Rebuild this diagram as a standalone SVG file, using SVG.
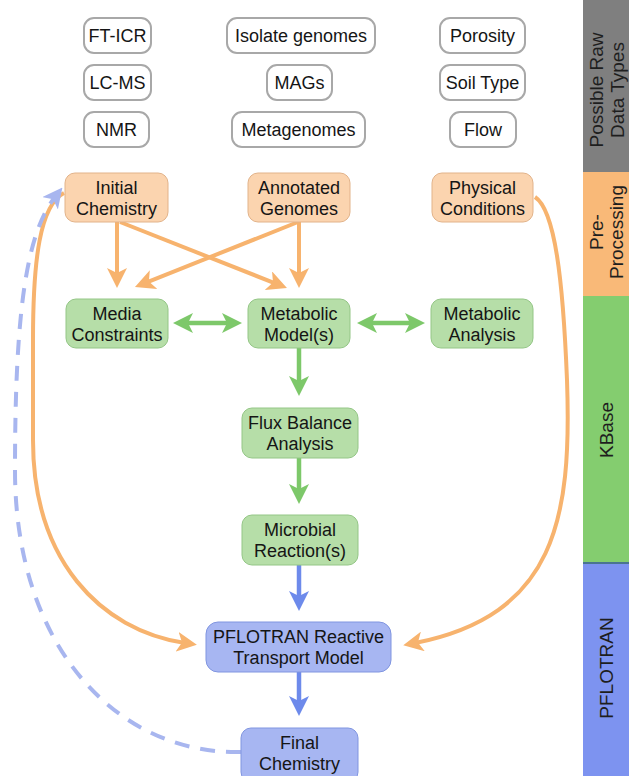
<svg xmlns="http://www.w3.org/2000/svg" width="629" height="776" viewBox="0 0 629 776">
<style>
text{font-family:"Liberation Sans",Arial,sans-serif;font-size:18px;fill:#151515;text-anchor:middle}
.raw{fill:#fff;stroke:#a8a8a8;stroke-width:2}
.pre{fill:#fbd4af;stroke:#e2b38a;stroke-width:1}
.kb{fill:#b6dea8;stroke:#94c686;stroke-width:1}
.pf{fill:#a7b6f2;stroke:#8095e0;stroke-width:1}
.side{font-size:19px;fill:#1e1e1e}
.lo{fill:none;stroke:#f7b36e;stroke-width:4}
.lg{fill:none;stroke:#7dc86a;stroke-width:4.5}
.lb{fill:none;stroke:#6d8aeb;stroke-width:4.5}
.ld{fill:none;stroke:#a8b6ef;stroke-width:4;stroke-dasharray:15 11}
</style>
<defs>
<marker id="ao" viewBox="0 0 20 20" refX="8" refY="10" markerWidth="20" markerHeight="20" markerUnits="userSpaceOnUse" orient="auto-start-reverse"><path d="M0,0 L20,10 L0,20 L5,10 z" fill="#f7b36e"/></marker>
<marker id="ag" viewBox="0 0 20 20" refX="8" refY="10" markerWidth="20" markerHeight="20" markerUnits="userSpaceOnUse" orient="auto-start-reverse"><path d="M0,0 L20,10 L0,20 L5,10 z" fill="#7dc86a"/></marker>
<marker id="ab" viewBox="0 0 20 20" refX="8" refY="10" markerWidth="20" markerHeight="20" markerUnits="userSpaceOnUse" orient="auto-start-reverse"><path d="M0,0 L20,10 L0,20 L5,10 z" fill="#6d8aeb"/></marker>
<marker id="ad" viewBox="0 0 20 20" refX="8" refY="10" markerWidth="20" markerHeight="20" markerUnits="userSpaceOnUse" orient="auto"><path d="M0,0 L20,10 L0,20 L5,10 z" fill="#a8b6ef"/></marker>
</defs>

<g id="sidebar">
<rect x="583" y="0" width="46" height="172" fill="#7f7f7f"/>
<rect x="583" y="172" width="46" height="124" fill="#f9b978"/>
<rect x="583" y="296" width="46" height="267" fill="#84cd6f"/>
<rect x="583" y="563" width="46" height="213" fill="#7d93f0"/>
<line x1="583" y1="563" x2="629" y2="563" stroke="#4a7590" stroke-width="2"/>
<text class="side" transform="translate(603,90) rotate(-90)">Possible Raw</text>
<text class="side" transform="translate(624,90) rotate(-90)">Data Types</text>
<text class="side" transform="translate(603,232) rotate(-90)">Pre-</text>
<text class="side" transform="translate(623,232) rotate(-90)">Processing</text>
<text class="side" transform="translate(613,430) rotate(-90)">KBase</text>
<text class="side" transform="translate(613,668) rotate(-90)">PFLOTRAN</text>
</g>

<g id="connectors">
<path class="lo" d="M117,222 L117,276" marker-end="url(#ao)"/>
<path class="lo" d="M120,222 L275.8,283.6" marker-end="url(#ao)"/>
<path class="lo" d="M299,222 L299,276" marker-end="url(#ao)"/>
<path class="lo" d="M298,222 L146.1,282.6" marker-end="url(#ao)"/>
<path class="lo" d="M64,193 C40,205 33,260 33,340 L33,440 C33,560 100,630 185,643" marker-end="url(#ao)"/>
<path class="lo" d="M535,197 C555,210 563,280 567,380 C572,520 555,615 415,643" marker-end="url(#ao)"/>
<path class="lg" d="M185,323 L230,323" marker-start="url(#ag)" marker-end="url(#ag)"/>
<path class="lg" d="M369,323 L413,323" marker-start="url(#ag)" marker-end="url(#ag)"/>
<path class="lg" d="M299,348 L299,384" marker-end="url(#ag)"/>
<path class="lg" d="M299,458 L299,492" marker-end="url(#ag)"/>
<path class="lb" d="M299,565 L299,599" marker-end="url(#ab)"/>
<path class="lb" d="M299,672 L299,704" marker-end="url(#ab)"/>
<path class="ld" d="M241,752 C120,755 15,650 15,470 C15,320 25,235 55,197" marker-end="url(#ad)"/>
</g>

<g id="ft-icr"><rect class="raw" x="84" y="18" width="67" height="35" rx="10"/><text x="117.5" y="42">FT-ICR</text></g>
<g id="lc-ms"><rect class="raw" x="84" y="65" width="67" height="35" rx="10"/><text x="117.5" y="89">LC-MS</text></g>
<g id="nmr"><rect class="raw" x="84" y="112" width="65" height="35" rx="10"/><text x="116.5" y="136">NMR</text></g>
<g id="isolate-genomes"><rect class="raw" x="227" y="18" width="148" height="35" rx="10"/><text x="301" y="42">Isolate genomes</text></g>
<g id="mags"><rect class="raw" x="267" y="65" width="65" height="35" rx="10"/><text x="299.5" y="89">MAGs</text></g>
<g id="metagenomes"><rect class="raw" x="232" y="112" width="133" height="35" rx="10"/><text x="298.5" y="136">Metagenomes</text></g>
<g id="porosity"><rect class="raw" x="440" y="18" width="85" height="35" rx="10"/><text x="482.5" y="42">Porosity</text></g>
<g id="soil-type"><rect class="raw" x="440" y="65" width="85" height="35" rx="10"/><text x="482.5" y="89">Soil Type</text></g>
<g id="flow"><rect class="raw" x="450" y="112" width="66" height="35" rx="10"/><text x="483" y="136">Flow</text></g>

<g id="initial-chemistry"><rect class="pre" x="65" y="173" width="103" height="49" rx="10"/><text x="116.5" y="193.5">Initial</text><text x="116.5" y="214.5">Chemistry</text></g>
<g id="annotated-genomes"><rect class="pre" x="248" y="173" width="102" height="49" rx="10"/><text x="299" y="193.5">Annotated</text><text x="299" y="214.5">Genomes</text></g>
<g id="physical-conditions"><rect class="pre" x="432" y="173" width="101" height="49" rx="10"/><text x="482.5" y="193.5">Physical</text><text x="482.5" y="214.5">Conditions</text></g>

<g id="media-constraints"><rect class="kb" x="66" y="299" width="102" height="49" rx="10"/><text x="117" y="319.5">Media</text><text x="117" y="340.5">Constraints</text></g>
<g id="metabolic-models"><rect class="kb" x="248" y="299" width="102" height="49" rx="10"/><text x="299" y="319.5">Metabolic</text><text x="299" y="340.5">Model(s)</text></g>
<g id="metabolic-analysis"><rect class="kb" x="431" y="299" width="102" height="49" rx="10"/><text x="482" y="319.5">Metabolic</text><text x="482" y="340.5">Analysis</text></g>
<g id="flux-balance-analysis"><rect class="kb" x="242" y="408" width="116" height="50" rx="10"/><text x="300" y="429">Flux Balance</text><text x="300" y="450">Analysis</text></g>
<g id="microbial-reactions"><rect class="kb" x="242" y="515" width="116" height="50" rx="10"/><text x="300" y="536">Microbial</text><text x="300" y="557">Reaction(s)</text></g>

<g id="pflotran-model"><rect class="pf" x="206" y="622" width="185" height="50" rx="12"/><text x="298.5" y="643">PFLOTRAN Reactive</text><text x="298.5" y="664">Transport Model</text></g>
<g id="final-chemistry"><rect class="pf" x="241" y="728" width="117" height="54" rx="10"/><text x="299.5" y="749">Final</text><text x="299.5" y="770">Chemistry</text></g>
</svg>
